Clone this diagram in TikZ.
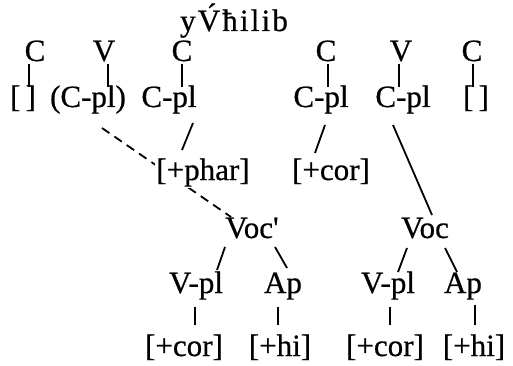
\documentclass[tikz,border=0pt]{standalone}
\usepackage{fontspec}
\setmainfont{Liberation Serif}[FakeBold=0.6]
\pgfdeclarelayer{background}
\pgfsetlayers{background,main}
\tikzset{
  lab/.style={anchor=base, inner sep=0pt, font=\fontsize{31}{37}\selectfont},
  conn/.style={line width=1.8pt},
  dconn/.style={line width=1.8pt, dash pattern=on 9pt off 6pt}
}
\begin{document}
\begin{tikzpicture}[x=1pt,y=-1pt]
\useasboundingbox (0,0) rectangle (513,366);
% top word
\node[lab] (word) at (234,31) {\addfontfeature{LetterSpace=7}y\'{V}ħilib};
% row 1
\node[lab] (c1) at (35,61) {C};
\node[lab] (v1) at (104,61) {V};
\node[lab] (c2) at (182,61) {C};
\node[lab] (c3) at (326,61) {C};
\node[lab] (v2) at (401,61) {V};
\node[lab] (c4) at (472,61) {C};
% row 2
\node[lab] (b1) at (23,107) {[\,]};
\node[lab] (pcpl) at (88,107) {(C-pl)};
\node[lab] (cpl1) at (169,107) {C-pl};
\node[lab] (cpl2) at (321,107) {C-pl};
\node[lab] (cpl3) at (403,107) {C-pl};
\node[lab] (b2) at (476,107) {[\,]};
% row 3
\node[lab, fill=white, inner sep=1pt] (phar) at (203,180) {[+phar]};
\node[lab] (cor1) at (331,180) {[+cor]};
% row 4
\node[lab] (vocp) at (252,238) {Voc\textquotesingle};
\node[lab] (voc) at (425,238) {Voc};
% row 5
\node[lab] (vpl1) at (196,293) {V-pl};
\node[lab] (ap1) at (283,293) {Ap};
\node[lab] (vpl2) at (388,293) {V-pl};
\node[lab] (ap2) at (463,293) {Ap};
% row 6
\node[lab] (cor2) at (184,356) {[+cor]};
\node[lab] (hi1) at (280,356) {[+hi]};
\node[lab] (cor3) at (385,356) {[+cor]};
\node[lab] (hi2) at (474,356) {[+hi]};
\begin{pgfonlayer}{background}
\draw[dconn] ([shift={(14,21)}]pcpl.base) -- ([shift={(-21,-21)}]vocp.base);
\end{pgfonlayer}
% connectors
\draw[conn] ([shift={(-6,3)}]c1.base) -- ([shift={(6,-20)}]b1.base);
\draw[conn] ([shift={(4,3)}]v1.base) -- ([shift={(20,-20)}]pcpl.base);
\draw[conn] ([shift={(0,3)}]c2.base) -- ([shift={(13,-20)}]cpl1.base);
\draw[conn] ([shift={(2,3)}]c3.base) -- ([shift={(7,-20)}]cpl2.base);
\draw[conn] ([shift={(-2,3)}]v2.base) -- ([shift={(-4,-20)}]cpl3.base);
\draw[conn] ([shift={(1,3)}]c4.base) -- ([shift={(-3,-20)}]b2.base);
\draw[conn] ([shift={(24,16)}]cpl1.base) -- ([shift={(-21,-30)}]phar.base);
\draw[conn] ([shift={(4,18)}]cpl2.base) -- ([shift={(-16,-27)}]cor1.base);
\draw[conn] ([shift={(-10,18)}]cpl3.base) -- ([shift={(7,-23)}]voc.base);
\draw[conn] ([shift={(-27,9)}]vocp.base) -- ([shift={(21,-23)}]vpl1.base);
\draw[conn] ([shift={(23,9)}]vocp.base) -- ([shift={(4,-25)}]ap1.base);
\draw[conn] ([shift={(-18,10)}]voc.base) -- ([shift={(10,-21)}]vpl2.base);
\draw[conn] ([shift={(20,10)}]voc.base) -- ([shift={(-6,-21)}]ap2.base);
\draw[conn] ([shift={(-1,14)}]vpl1.base) -- ([shift={(11,-31)}]cor2.base);
\draw[conn] ([shift={(-5,14)}]ap1.base) -- ([shift={(-2,-31)}]hi1.base);
\draw[conn] ([shift={(2,14)}]vpl2.base) -- ([shift={(5,-31)}]cor3.base);
\draw[conn] ([shift={(12,12)}]ap2.base) -- ([shift={(1,-31)}]hi2.base);
\end{tikzpicture}
\end{document}
